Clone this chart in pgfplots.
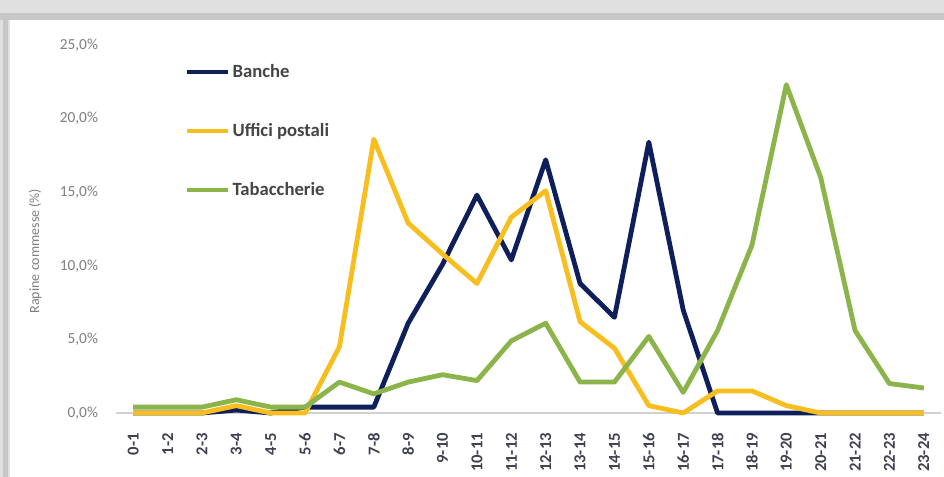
\documentclass[border=0pt]{standalone}
\usepackage{fontspec}
\setmainfont{Carlito}
\usepackage{pgfplots}
\pgfplotsset{compat=1.18}

\definecolor{banche}{HTML}{0F1F5C}
\definecolor{poste}{HTML}{F7BE1E}
\definecolor{tabacchi}{HTML}{8BB44A}
\definecolor{ticktxt}{HTML}{7F7F7F}
\definecolor{cattxt}{HTML}{3F4050}
\definecolor{legtxt}{HTML}{454545}

% valori (% rapine per fascia oraria)
\pgfplotstableread{
x banche poste tabacchi
0  0.0  0.0  0.4
1  0.0  0.0  0.4
2  0.0  0.0  0.4
3  0.2  0.5  0.9
4  0.0  0.0  0.4
5  0.4  0.0  0.4
6  0.4  4.5  2.1
7  0.4  18.6 1.3
8  6.1  12.9 2.1
9  10.1 10.8 2.6
10 14.8 8.8  2.2
11 10.4 13.3 4.9
12 17.2 15.1 6.1
13 8.8  6.2  2.1
14 6.5  4.4  2.1
15 18.4 0.5  5.2
16 7.0  0.0  1.4
17 0.0  1.5  5.6
18 0.0  1.5  11.4
19 0.0  0.5  22.3
20 0.0  0.0  16.0
21 0.0  0.0  5.6
22 0.0  0.0  2.0
23 0.0  0.0  1.7
}\dati

\begin{document}
\begin{tikzpicture}
  % cornice grigia
  \fill[black!12] (0,0) rectangle (708pt,357.75pt);
  \fill[black!22] (0,342.75pt) rectangle (708pt,348pt);
  \fill[black!22] (2.5pt,0) rectangle (6pt,348pt);
  \fill[white] (7.5pt,0) rectangle (708pt,342.75pt);
  \begin{axis}[
    at={(87pt,48pt)}, anchor=south west,
    scale only axis,
    width=618.75pt, height=276pt,
    xmin=-0.5, xmax=23.5,
    ymin=0, ymax=25,
    clip=false,
    axis x line*=bottom,
    axis y line*=left,
    x axis line style={-, draw=black!18, line width=0.8pt},
    y axis line style={draw=none},
    major tick length=0pt,
    xtick={0,...,23},
    xticklabels={0-1,1-2,2-3,3-4,4-5,5-6,6-7,7-8,8-9,9-10,10-11,11-12,12-13,13-14,14-15,15-16,16-17,17-18,18-19,19-20,20-21,21-22,22-23,23-24},
    xticklabel style={rotate=90, anchor=east, font=\fontsize{12.5}{14}\selectfont\bfseries, text=cattxt, xshift=-11.5pt},
    ytick={0,5,...,25},
    yticklabel={\pgfmathprintnumber[fixed, fixed zerofill, precision=1, use comma]{\tick}\%},
    yticklabel style={font=\fontsize{11.5}{13}\selectfont, text=ticktxt, xshift=-10pt},
    /pgf/number format/assume math mode=true,
    ylabel={Rapine commesse (\%)},
    ylabel style={at={(axis description cs:-0.098,0.44)}, anchor=center, font=\fontsize{10.5}{12}\selectfont, text=ticktxt},
    legend style={at={(axis description cs:0.078,0.963)}, anchor=north west,
      draw=none, fill=none, row sep=29pt, font=\fontsize{14}{16}\selectfont\bfseries, text=legtxt,
      /tikz/every even column/.style={column sep=0pt}},
    legend cell align=left,
    legend image code/.code={\draw[#1, line width=3pt] (0pt,0pt) -- (31pt,0pt);},
    every axis plot/.append style={line width=3.6pt, line join=round, no markers},
  ]
    \addplot[banche] table[x=x, y=banche] {\dati};
    \addlegendentry{Banche}
    \addplot[poste] table[x=x, y=poste] {\dati};
    \addlegendentry{Uffici postali}
    \addplot[tabacchi] table[x=x, y=tabacchi] {\dati};
    \addlegendentry{Tabaccherie}
  \end{axis}
\end{tikzpicture}
\end{document}
